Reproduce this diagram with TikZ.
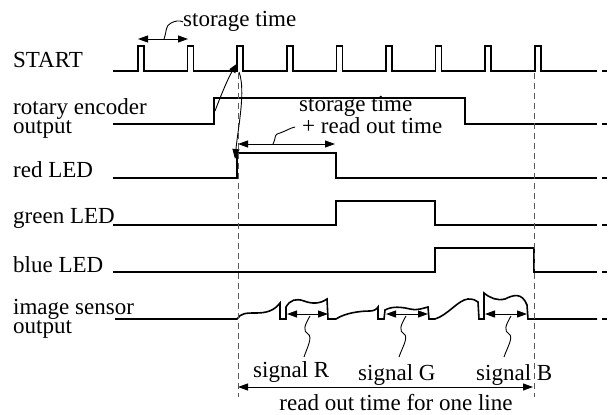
\documentclass[tikz,border=0pt]{standalone}
\usepackage{fontspec}
\setmainfont{Liberation Serif}
\usetikzlibrary{arrows.meta}
\tikzset{
  sig/.style={line width=1.6pt, line join=miter},
  guide/.style={dash pattern=on 6pt off 4pt, line width=0.9pt, draw=black!65},
  dimarrow/.style={{Triangle[length=10pt,width=7pt]}-{Triangle[length=10pt,width=7pt]}, line width=1pt},
  causal/.style={-{Triangle[length=10pt,width=7pt]}, line width=0.9pt},
  squig/.style={line width=0.9pt},
  lbl/.style={font=\fontsize{23}{17}\selectfont, inner sep=0pt, align=left}
}

\begin{document}
\begin{tikzpicture}[x=1pt, y=-1pt]
  \useasboundingbox (0,0) rectangle (611,415);

  % signal names
  \node[lbl, anchor=base west] (lblStart) at (13,67) {START};
  \node[lbl, anchor=base west] (lblEnc) at (13,133) {rotary encoder\\output};
  \node[lbl, anchor=base west] (lblRed) at (13,177) {red LED};
  \node[lbl, anchor=base west] (lblGreen) at (13,223) {green LED};
  \node[lbl, anchor=base west] (lblBlue) at (13,272) {blue LED};
  \node[lbl, anchor=base west] (lblSensor) at (13,333) {image sensor\\output};

  % waveforms
  \draw[sig] (113,71) foreach \i in {0,...,8} {
      -- ({138+49.6*\i},71) -- ++(0,-25) -- ++(6,0) -- ++(0,25)} -- (597,71);
  \draw[sig] (113,124) -- (214,124) -- (214,98) -- (465,98) -- (465,124) -- (597,124);
  \draw[sig] (113,178) -- (237,178) -- (237,153) -- (336,153) -- (336,178) -- (597,178);
  \draw[sig] (113,225) -- (336,225) -- (336,201) -- (435,201) -- (435,225) -- (597,225);
  \draw[sig] (113,272) -- (435,272) -- (435,248) -- (534,248) -- (534,272) -- (597,272);
  \draw[sig] (115,319) -- (237,319)
      .. controls (241,313) and (246,313) .. (256,313)
      .. controls (266,313) and (274,311) .. (280,303)
      -- (280,319) -- (286,319) -- (286,307)
      .. controls (290,300) and (296,298) .. (304,301)
      .. controls (312,304) and (320,304) .. (327,299)
      -- (328,319) -- (336,319)
      .. controls (345,313) and (360,311) .. (370,311)
      .. controls (374,311) and (377,309) .. (378,307)
      -- (378,319) -- (384,319) -- (385,310)
      .. controls (392,306) and (402,307) .. (410,309)
      .. controls (416,311) and (424,308) .. (428,307)
      -- (429,319) -- (435,319)
      .. controls (448,315) and (458,300) .. (468,299)
      .. controls (473,299) and (476,300) .. (478,302)
      -- (479,319) -- (484,319) -- (484,293)
      .. controls (490,298) and (497,301) .. (505,299)
      .. controls (513,295) and (522,292) .. (527,305)
      -- (528,319) -- (597,319);
  \foreach \y in {71,124,178,225,272,319}
    \draw[sig] (602,\y) -- (607,\y);

  % timing guides
  \coordinate (guideL1) at (238,73);
  \coordinate (guideL2) at (238,397);
  \coordinate (guideR1) at (534,73);
  \coordinate (guideR2) at (534,397);
  \draw[guide] (guideL1) -- (guideL2);
  \draw[guide] (guideR1) -- (guideR2);

  % storage time
  \coordinate (stA) at (138,39);
  \coordinate (stB) at (188,39);
  \draw[dimarrow] (stA) -- (stB);
  \node[lbl, anchor=base west] (stLabel) at (183,27) {storage time};
  \draw[squig] (164,39) .. controls (167,31) and (165,26) .. (171,23)
      .. controls (175,21) and (179,20) .. (stLabel.west);

  % storage + read out time
  \coordinate (srA) at (238,144);
  \coordinate (srB) at (335,144);
  \draw[dimarrow] (srA) -- (srB);
  \node[lbl, anchor=base west] (srLabel) at (299,133) {storage time\\\hspace{3pt}+ read out time};
  \draw[squig] (273,144) .. controls (277,136) and (273,135) .. (280,133)
      .. controls (286,131) and (290,128) .. (295,127);

  % causality arrows
  \coordinate (encRise) at (215,111);
  \coordinate (startP) at (238,63);
  \coordinate (startQ) at (239,72);
  \coordinate (redRise) at (235,159);
  \draw[causal] (encRise) .. controls (221,95) and (229,76) .. (startP);
  \draw[causal] (startQ) .. controls (246,90) and (238,128) .. (redRise);

  % signal windows
  \coordinate (rA) at (287,314);
  \coordinate (rB) at (328,314);
  \coordinate (gA) at (386,314);
  \coordinate (gB) at (428,314);
  \coordinate (bA) at (485,314);
  \coordinate (bB) at (527,314);
  \draw[dimarrow] (rA) -- (rB);
  \draw[dimarrow] (gA) -- (gB);
  \draw[dimarrow] (bA) -- (bB);

  \node[lbl, anchor=base west] (sigR) at (253,377) {signal R};
  \node[lbl, anchor=base west] (sigG) at (358,380) {signal G};
  \node[lbl, anchor=base west] (sigB) at (476,380) {signal B};
  \draw[squig] (310,316) .. controls +(-6,10) and +(-5,-3) .. ++(-2,18)
      .. controls +(5,3) and +(3,-9) .. ++(-4,23);
  \draw[squig] (406,316) .. controls +(-6,10) and +(-5,-3) .. ++(-2,18)
      .. controls +(5,3) and +(3,-9) .. ++(-5,23);
  \draw[squig] (511,316) .. controls +(-6,10) and +(-5,-3) .. ++(-2,18)
      .. controls +(5,3) and +(3,-9) .. ++(-5,23);

  % one line read out
  \coordinate (lineA) at (238,387);
  \coordinate (lineB) at (533,387);
  \draw[dimarrow] (lineA) -- (lineB);
  \node[lbl, anchor=base] (lineLabel) at (396,410) {read out time for one line};
\end{tikzpicture}
\end{document}
